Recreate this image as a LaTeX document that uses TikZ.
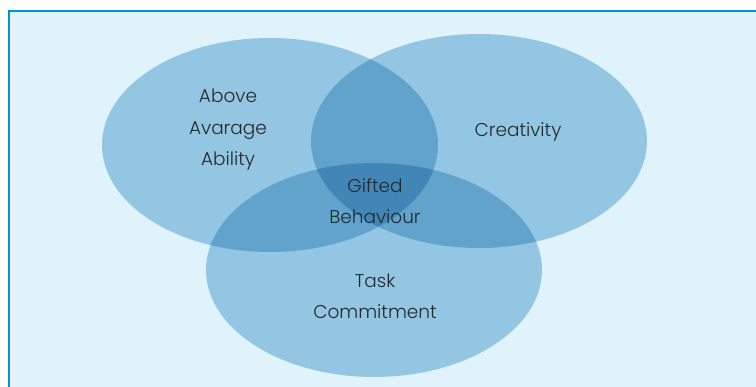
\documentclass[tikz,border=0pt]{standalone}
\usepackage{fontspec}
\setmainfont{Poppins}[UprightFont=* Light]
\definecolor{panel}{RGB}{225,243,250}
\definecolor{framec}{RGB}{0,146,204}
\definecolor{one}{RGB}{147,198,226}
\definecolor{two}{RGB}{98,163,203}
\definecolor{three}{RGB}{66,134,184}
\definecolor{ink}{RGB}{36,40,44}
\tikzset{
  ring/.style={x radius=168pt, y radius=107pt},
  label/.style={text=ink, align=center, font=\fontsize{18.5}{31.5}\selectfont, inner sep=0pt},
}
\begin{document}
\begin{tikzpicture}[x=1pt,y=-1pt]
  \useasboundingbox (0,0) rectangle (756,387);
  \fill[white] (0,0) rectangle (756,387);
  \fill[panel] (8,10) rectangle (756,387);
  \draw[framec, line width=2pt] (8.9,387) -- (8.9,10.9) -- (756,10.9);

  \coordinate (ca) at (270,145);
  \coordinate (cb) at (479,141);
  \coordinate (cc) at (374,270);

  % the three circles
  \fill[one] (ca) ellipse [ring];
  \fill[one] (cb) ellipse [ring];
  \fill[one] (cc) ellipse [ring];

  % pairwise overlaps
  \begin{scope}
    \clip (ca) ellipse [ring];
    \fill[two] (cb) ellipse [ring];
    \fill[two] (cc) ellipse [ring];
  \end{scope}
  \begin{scope}
    \clip (cb) ellipse [ring];
    \fill[two] (cc) ellipse [ring];
  \end{scope}

  % common core
  \begin{scope}
    \clip (ca) ellipse [ring];
    \clip (cb) ellipse [ring];
    \fill[three] (cc) ellipse [ring];
  \end{scope}

  \node[label] (ability) at (228,130) {Above\\Avarage\\Ability};
  \node[label] (creativity) at (518,132) {Creativity};
  \node[label] (gifted) at (375,201) {Gifted\\Behaviour};
  \node[label] (task) at (375,296) {Task\\Commitment};
\end{tikzpicture}
\end{document}
